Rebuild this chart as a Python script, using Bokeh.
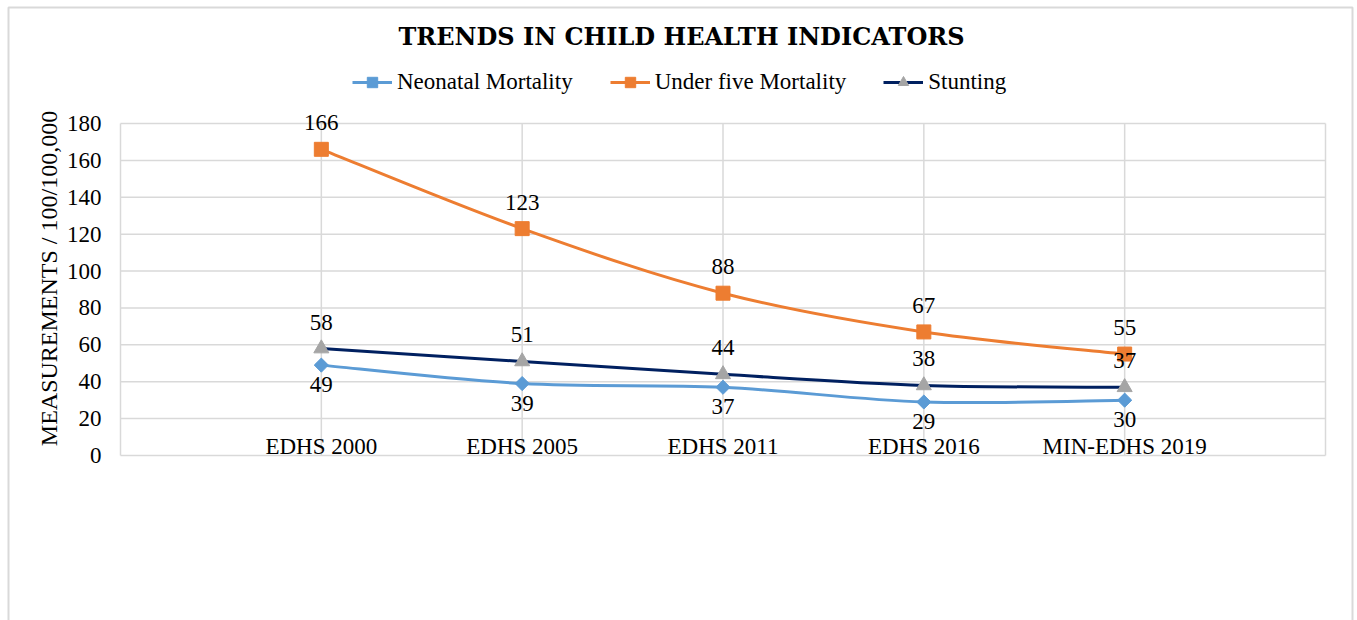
import numpy as np
from bokeh.plotting import figure
from bokeh.models import (ColumnDataSource, LabelSet, Label, Legend, LegendItem, Range1d)
from bokeh.core.properties import value
from bokeh.embed import file_html
from bokeh.resources import INLINE

# ---------------- data ----------------
categories = ["EDHS 2000", "EDHS 2005", "EDHS 2011", "EDHS 2016", "MIN-EDHS 2019"]
neonatal = [49, 39, 37, 29, 30]
under_five = [166, 123, 88, 67, 55]
stunting = [58, 51, 44, 38, 37]
y_ticks = [0, 20, 40, 60, 80, 100, 120, 140, 160, 180]

title_text = "TRENDS IN CHILD HEALTH INDICATORS"
y_label = "MEASUREMENTS / 100/100,000"

# ---------------- layout ----------------
W, H = 1357, 620
FL, FR, FT, FB = 120, 1325, 123, 455   # plot-area edges in pixels
FONT = "Liberation Serif"
FS = "23px"
GRID = "#D9D9D9"

xs = list(range(1, len(categories) + 1))
x_lo, x_hi = 0, len(categories) + 1
y_lo, y_hi = y_ticks[0], y_ticks[-1]


def px_to_x(px):
    return x_lo + (px - FL) / (FR - FL) * (x_hi - x_lo)


def py_to_y(py):
    return y_lo + (FB - py) / (FB - FT) * (y_hi - y_lo)


p = figure(width=W, height=H,
           x_range=Range1d(px_to_x(0), px_to_x(W)),
           y_range=Range1d(py_to_y(H), py_to_y(0)),
           x_axis_type=None, y_axis_type=None,
           output_backend="svg", toolbar_location=None, min_border=0)
p.background_fill_color = "white"
p.border_fill_color = "white"
p.outline_line_color = None

# outer chart border
p.quad(left=[px_to_x(8)], right=[px_to_x(1352)], top=[py_to_y(7)], bottom=[py_to_y(H + 20)],
       fill_color=None, line_color=GRID, line_width=2)

# horizontal grid lines
p.segment(x0=[x_lo] * len(y_ticks), x1=[x_hi] * len(y_ticks), y0=y_ticks, y1=y_ticks,
          line_color=GRID, line_width=1.5)
# vertical grid lines (plot edges + each category)
vx = [x_lo] + xs + [x_hi]
p.segment(x0=vx, x1=vx, y0=[y_lo] * len(vx), y1=[y_hi] * len(vx),
          line_color=GRID, line_width=1.5)

# y tick labels
p.text(x=[px_to_x(101)] * len(y_ticks), y=y_ticks, text=[str(t) for t in y_ticks],
       text_align="right", text_baseline="middle", text_font=value(FONT),
       text_font_size=value(FS), text_color="black")

# y axis title
p.add_layout(Label(x=px_to_x(48), y=py_to_y(278), text=y_label, angle=np.pi / 2,
                   text_align="center", text_baseline="middle", text_font=FONT,
                   text_font_size="24px", text_color="black"))


def smooth_segments(xv, yv):
    P = np.column_stack([np.asarray(xv, float), np.asarray(yv, float)])
    n = len(P)
    segs = {k: [] for k in ("x0", "y0", "x1", "y1", "cx0", "cy0", "cx1", "cy1")}
    for i in range(n - 1):
        p0 = P[max(i - 1, 0)]
        p1 = P[i]
        p2 = P[i + 1]
        p3 = P[min(i + 2, n - 1)]
        c1 = p1 + (p2 - p0) / 6.0
        c2 = p2 - (p3 - p1) / 6.0
        segs["x0"].append(p1[0]); segs["y0"].append(p1[1])
        segs["x1"].append(p2[0]); segs["y1"].append(p2[1])
        segs["cx0"].append(c1[0]); segs["cy0"].append(c1[1])
        segs["cx1"].append(c2[0]); segs["cy1"].append(c2[1])
    return ColumnDataSource(segs)


series = [
    ("Neonatal Mortality", neonatal, "#5B9BD5", "square", 10, np.pi / 4, "#5B9BD5", -27),
    ("Under five Mortality", under_five, "#ED7D31", "square", 14, 0, "#ED7D31", 19),
    ("Stunting", stunting, "#002060", "triangle", 15, 0, "#A5A5A5", 19),
]

items = []
for name, vals, lcol, marker, msize, mangle, mcol, off in series:
    bz = p.bezier(x0="x0", y0="y0", x1="x1", y1="y1", cx0="cx0", cy0="cy0",
                  cx1="cx1", cy1="cy1", source=smooth_segments(xs, vals),
                  line_color=lcol, line_width=3)
    src = ColumnDataSource(dict(x=xs, y=vals, lbl=[str(v) for v in vals]))
    sc = p.scatter("x", "y", source=src, marker=marker, size=msize, angle=mangle,
                   fill_color=mcol, line_color=mcol)
    p.add_layout(LabelSet(x="x", y="y", text="lbl", source=src, text_align="center",
                          text_baseline="alphabetic", y_offset=off,
                          text_font=value(FONT), text_font_size=value(FS),
                          text_color="black"))
    items.append(LegendItem(label=name, renderers=[bz, sc]))

# category labels (drawn just above the zero line as in the original)
cat_src = ColumnDataSource(dict(x=xs, y=[y_lo] * len(xs), lbl=categories))
p.add_layout(LabelSet(x="x", y="y", text="lbl", source=cat_src, text_align="center",
                      text_baseline="alphabetic", y_offset=2,
                      text_font=value(FONT), text_font_size=value(FS), text_color="black"))

legend = Legend(items=items, orientation="horizontal", location=(352, H - 95),
                glyph_width=40, glyph_height=26, label_standoff=5, spacing=37,
                padding=0, margin=0, border_line_color=None, background_fill_alpha=0,
                label_text_font=FONT, label_text_font_size=FS, label_text_color="black")
p.add_layout(legend)

p.add_layout(Label(x=px_to_x(681), y=py_to_y(36), text=title_text, text_align="center",
                   text_baseline="middle", text_font="DejaVu Serif", text_font_style="bold",
                   text_font_size="24px", text_color="black"))

open("out.html", "w").write(file_html(p, INLINE))
